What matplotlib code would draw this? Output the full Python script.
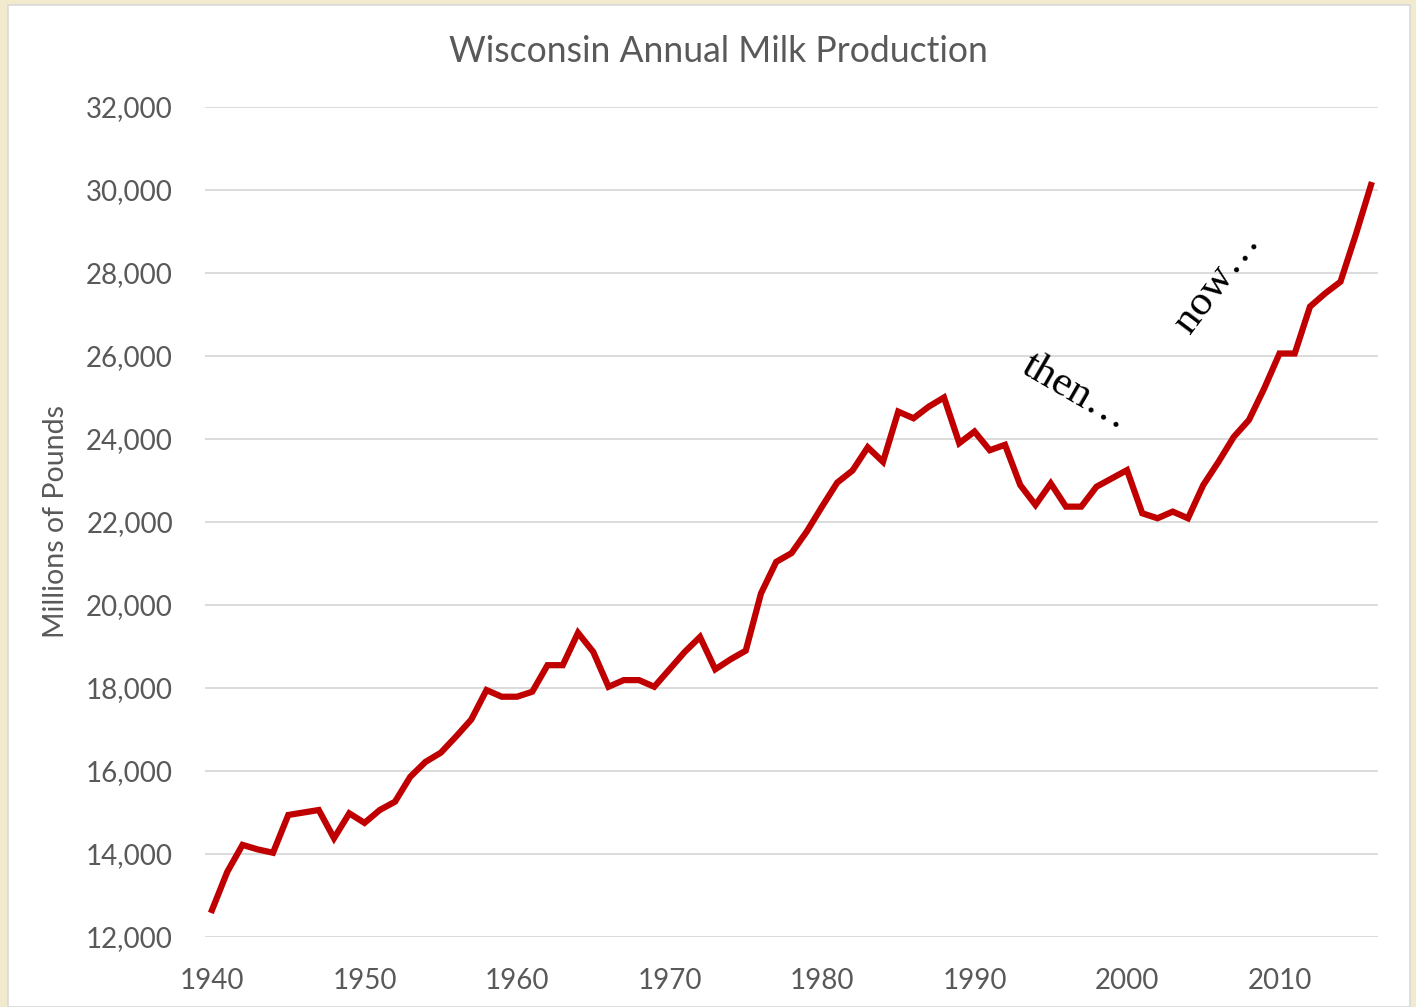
import numpy as np
import matplotlib.pyplot as plt
from matplotlib.patches import Rectangle

years = list(range(1940, 2017))
milk = [12650, 13570, 14220, 14110, 14030, 14940, 15000, 15060, 14380, 14980,
        14750, 15060, 15260, 15860, 16220, 16440, 16830, 17240, 17950, 17790,
        17790, 17910, 18550, 18550, 19330, 18870, 18030, 18190, 18190, 18030,
        18450, 18870, 19230, 18450, 18690, 18900, 20280, 21040, 21250, 21770,
        22370, 22950, 23240, 23800, 23450, 24660, 24500, 24780, 25000, 23900,
        24180, 23730, 23860, 22890, 22410, 22930, 22370, 22370, 22850, 23050,
        23250, 22210, 22090, 22250, 22090, 22890, 23450, 24050, 24460, 25220,
        26060, 26060, 27190, 27510, 27790, 28920, 30120]
yticks = list(range(12000, 32001, 2000))
xticks = list(range(1940, 2011, 10))

grey = '#595959'
plt.rcParams['font.family'] = ['Lato', 'DejaVu Sans']

fig = plt.figure(figsize=(14.16, 10.07), dpi=100, facecolor='#F2EACD')
# white chart panel on the parchment background
fig.patches.append(Rectangle((8 / 1416, 0), 1402 / 1416, 1002 / 1007,
                             transform=fig.transFigure, facecolor='white',
                             edgecolor='#D9D9D9', linewidth=1.2, zorder=-5))

ax = fig.add_axes([205 / 1416, 70 / 1007, 1173 / 1416, 830 / 1007])
ax.set_facecolor('none')
ax.plot(years, milk, color='#C00000', linewidth=4.5, solid_joinstyle='miter')

ax.set_xlim(1939.54, 2016.46)
ax.set_ylim(12000, 32000)
ax.set_yticks(yticks)
ax.set_yticklabels([f'{v:,}' for v in yticks])
ax.set_xticks(xticks)
ax.yaxis.grid(True, color='#D9D9D9', linewidth=1.3)
ax.set_axisbelow(True)
for s in ax.spines.values():
    s.set_visible(False)
ax.tick_params(length=0, labelsize=20, colors=grey)
ax.tick_params(axis='y', pad=23)
ax.tick_params(axis='x', pad=22)

ax.set_ylabel('Millions of Pounds', fontsize=20.5, color=grey, labelpad=12)
fig.text(718 / 1416, 1 - 51 / 1007, 'Wisconsin Annual Milk Production',
         fontsize=25.6, color=grey, ha='center', va='center')

ax.text(1996.6, 25130, 'then\u2026', rotation=-30, fontsize=31,
        family=['Liberation Serif', 'DejaVu Serif'], ha='center', va='center',
        rotation_mode='anchor')
ax.text(2005.9, 27780, 'now\u2026', rotation=53, fontsize=31,
        family=['Liberation Serif', 'DejaVu Serif'], ha='center', va='center',
        rotation_mode='anchor')

fig.savefig('out.png', dpi=100, facecolor=fig.get_facecolor())
